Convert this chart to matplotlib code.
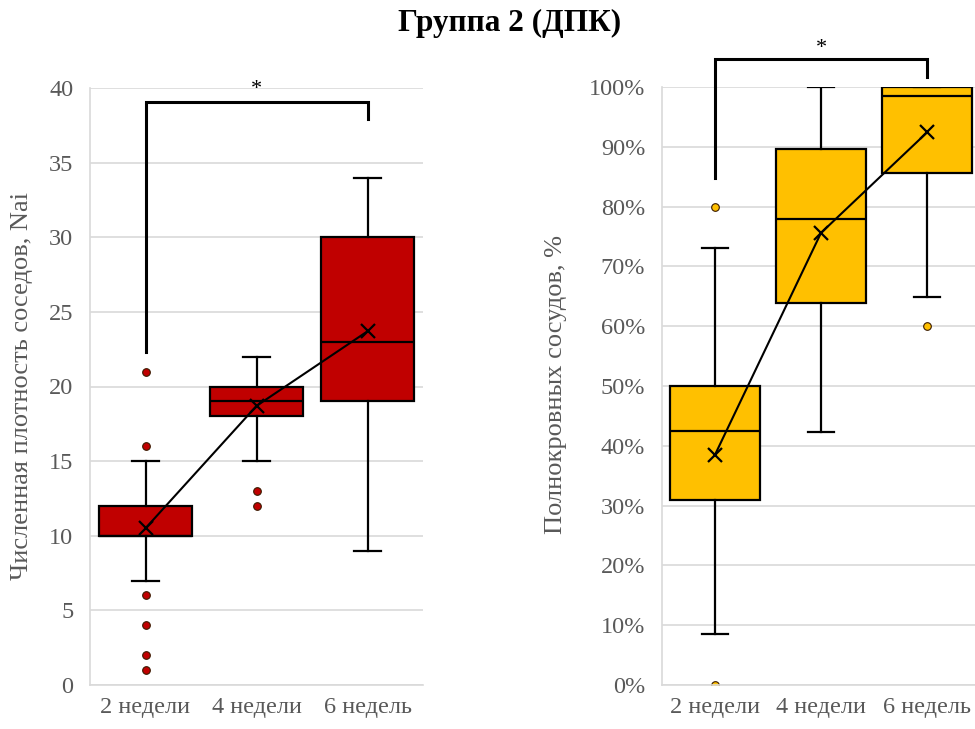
import matplotlib
matplotlib.use("Agg")
import matplotlib.pyplot as plt
from matplotlib.ticker import PercentFormatter

plt.rcParams['font.family'] = ['Liberation Serif', 'DejaVu Serif']

categories = ["2 недели", "4 недели", "6 недель"]

# Численная плотность соседов (Nai)
nai_q1 = [10, 18, 19]
nai_median = [10, 19, 23]
nai_q3 = [12, 20, 30]
nai_whislo = [7, 15, 9]
nai_whishi = [15, 22, 34]
nai_mean = [10.5, 18.7, 23.7]
nai_outliers = [[21, 16, 6, 4, 2, 1], [13, 12], []]

# Полнокровные сосуды, %
full_q1 = [31, 63.8, 85.6]
full_median = [42.5, 77.9, 98.5]
full_q3 = [50, 89.6, 100]
full_whislo = [8.5, 42.3, 64.9]
full_whishi = [73, 100, 100]
full_mean = [38.5, 75.6, 92.4]
full_outliers = [[80, 0], [], [60]]

GRID = "#D9D9D9"
TEXT = "#595959"
TICK_FS = 17.5
LABEL_FS = 19


def build_stats(q1, med, q3, lo, hi, mean, fl):
    return [dict(q1=a, med=b, q3=c, whislo=d, whishi=e, mean=f, fliers=g, label=lab)
            for a, b, c, d, e, f, g, lab in zip(q1, med, q3, lo, hi, mean, fl, categories)]


def draw_panel(ax, stats, color, means):
    pos = list(range(len(stats)))
    ax.bxp(stats, positions=pos, widths=0.84, patch_artist=True,
           showmeans=True, showfliers=True,
           boxprops=dict(facecolor=color, edgecolor="black", linewidth=1.6),
           medianprops=dict(color="black", linewidth=1.6),
           whiskerprops=dict(color="black", linewidth=1.6),
           capprops=dict(color="black", linewidth=1.6),
           capwidths=0.25,
           meanprops=dict(marker="x", markeredgecolor="black", markersize=10,
                          markeredgewidth=1.6),
           flierprops=dict(marker="o", markerfacecolor=color, markeredgecolor="#3a1a00",
                           markersize=5.5, markeredgewidth=0.8))
    ax.plot(pos, means, color="black", linewidth=1.5, zorder=4)
    ax.set_xlim(-0.5, 2.5)
    ax.set_xticks(pos)
    ax.set_xticklabels(categories)
    ax.tick_params(axis="both", length=0, colors=TEXT, labelsize=TICK_FS)
    ax.tick_params(axis="y", pad=12)
    ax.tick_params(axis="x", pad=9)
    ax.grid(axis="y", color=GRID, linewidth=1.2)
    ax.set_axisbelow(True)
    for side in ("top", "right"):
        ax.spines[side].set_visible(False)
    for side in ("left", "bottom"):
        ax.spines[side].set_color(GRID)
        ax.spines[side].set_linewidth(1.2)


def bracket(ax, x0, x1, y_left, y_right, y_top, y_star):
    ax.plot([x0, x0, x1, x1], [y_left, y_top, y_top, y_right], color="black",
            linewidth=2.2, clip_on=False, zorder=5, solid_joinstyle="miter")
    ax.text((x0 + x1) / 2, y_star, "*", ha="center", va="center", fontsize=16,
            color="black", clip_on=False)


fig = plt.figure(figsize=(9.75, 7.29), dpi=100)

ax1 = fig.add_axes([90 / 975, 1 - 685 / 729, 333 / 975, 597 / 729])
draw_panel(ax1, build_stats(nai_q1, nai_median, nai_q3, nai_whislo, nai_whishi,
                            nai_mean, nai_outliers), "#C00000", nai_mean)
ax1.set_ylim(0, 40)
ax1.set_yticks(range(0, 41, 5))
ax1.set_ylabel("Численная плотность соседов, Nai", fontsize=LABEL_FS, color=TEXT)
ax1.yaxis.set_label_coords(-0.172, 0.5)
bracket(ax1, 0, 2, 22.3, 37.9, 39.05, 39.9)

ax2 = fig.add_axes([662 / 975, 1 - 685 / 729, 318 / 975, 598 / 729])
draw_panel(ax2, build_stats(full_q1, full_median, full_q3, full_whislo, full_whishi,
                            full_mean, full_outliers), "#FFC000", full_mean)
ax2.set_ylim(0, 100)
ax2.set_yticks(range(0, 101, 10))
ax2.yaxis.set_major_formatter(PercentFormatter(decimals=0))
ax2.set_ylabel("Полнокровных сосудов, %", fontsize=LABEL_FS, color=TEXT)
ax2.yaxis.set_label_coords(-0.299, 0.502)
bracket(ax2, 0, 2, 84.8, 101.6, 104.7, 106.4)

fig.text(510 / 975, 1 - 23 / 729, "Группа 2 (ДПК)", ha="center", va="center",
         fontsize=22.5, fontweight="bold", color="black")

fig.savefig("out.png", dpi=100)
